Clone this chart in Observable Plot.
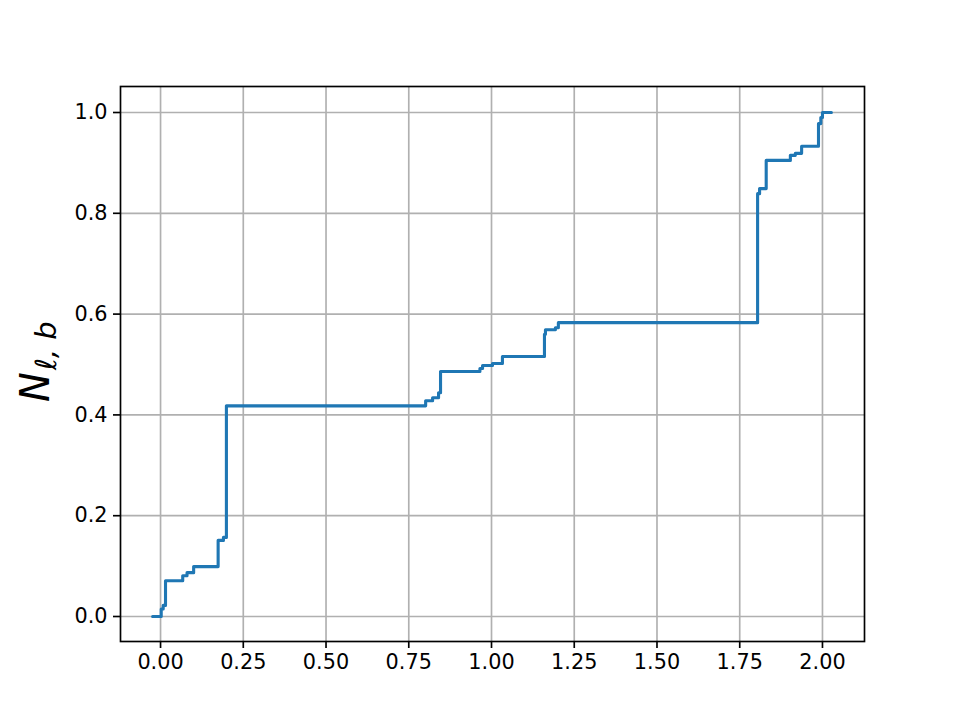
<!DOCTYPE html>
<html>
<head>
<meta charset="utf-8">
<script src="https://cdn.jsdelivr.net/npm/d3@7"></script>
<script src="https://cdn.jsdelivr.net/npm/@observablehq/plot@0.6"></script>
<style>
  body { margin: 0; background: #fff; }
  #chart { width: 960px; height: 720px; }
</style>
</head>
<body>
<div id="chart"></div>
<script>
// Step function values (x where step occurs, value after step)
const stepX = [-0.024, 0.002, 0.008, 0.015, 0.067, 0.080, 0.100, 0.174, 0.190, 0.199,
  0.801, 0.822, 0.840, 0.846, 0.965, 0.973, 1.003, 1.033, 1.160, 1.163, 1.193, 1.202,
  1.804, 1.810, 1.830, 1.903, 1.918, 1.937, 1.988, 1.995, 2.000, 2.027];
const stepY = [0.000, 0.015, 0.022, 0.071, 0.081, 0.087, 0.099, 0.151, 0.157, 0.418,
  0.428, 0.434, 0.444, 0.486, 0.492, 0.498, 0.502, 0.516, 0.560, 0.569, 0.573, 0.583,
  0.839, 0.849, 0.905, 0.915, 0.919, 0.933, 0.978, 0.990, 1.000, 1.000];
const xTicks = [0, 0.25, 0.5, 0.75, 1.0, 1.25, 1.5, 1.75, 2.0];
const yTicks = [0, 0.2, 0.4, 0.6, 0.8, 1.0];

const data = stepX.map((x, i) => ({x, y: stepY[i]}));

const chart = Plot.plot({
  width: 960,
  height: 720,
  marginLeft: 120,
  marginRight: 96,
  marginTop: 86,
  marginBottom: 79,
  style: {fontFamily: "DejaVu Sans", fontSize: "20.8px", color: "#000", background: "#fff"},
  x: {domain: [-0.121, 2.127], label: null},
  y: {domain: [-0.0496, 1.0516], label: null},
  marks: [
    Plot.ruleX(xTicks, {stroke: "#b0b0b0", strokeWidth: 1.67}),
    Plot.ruleY(yTicks, {stroke: "#b0b0b0", strokeWidth: 1.67}),
    Plot.line(data, {x: "x", y: "y", curve: "step-after", stroke: "#1f77b4", strokeWidth: 3.1}),
    Plot.axisX({ticks: xTicks, tickFormat: d3.format(".2f"), tickSize: 7, tickPadding: 6, strokeWidth: 1.67, label: null}),
    Plot.axisY({ticks: yTicks, tickFormat: d3.format(".1f"), tickSize: 7, tickPadding: 6, strokeWidth: 1.67, label: null}),
    Plot.frame({stroke: "#000", strokeWidth: 1.67})
  ]
});

const svg = d3.select(chart);
svg.selectAll("text").style("font-size", "20.8px").style("font-family", "DejaVu Sans").style("fill", "#000");

const lab = svg.append("text")
  .attr("transform", "translate(49,402) rotate(-90)")
  .attr("text-anchor", "start")
  .style("font-family", "DejaVu Sans")
  .style("font-style", "italic")
  .style("font-size", "40px")
  .style("fill", "#000");
lab.append("tspan").text("N");
lab.append("tspan").style("font-size", "29px").attr("dy", 7).attr("dx", 2).text("ℓ, b");

document.getElementById("chart").appendChild(chart);
</script>
</body>
</html>
